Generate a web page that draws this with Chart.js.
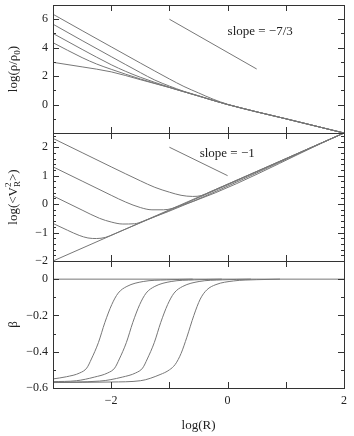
<!DOCTYPE html>
<html>
<head>
<meta charset="utf-8">
<script src="https://cdn.jsdelivr.net/npm/chart.js@4.4.1/dist/chart.umd.min.js"></script>
<style>
  html, body { margin: 0; padding: 0; background: #fff; }
  #caja { position: relative; width: 354px; height: 436px; }
  canvas { position: absolute; left: 0; }
</style>
</head>
<body>
<div id="caja">
  <canvas id="panelRho" width="354" height="136" style="top:0px"></canvas>
  <canvas id="panelVel" width="354" height="136" style="top:130px"></canvas>
  <canvas id="panelBeta" width="354" height="178" style="top:258px"></canvas>
</div>
<script>
// --- datos (log R en el eje x) ---

// panel superior: log(rho/rho0)
const rhoXA = [-3, -2.5, -2, -1.5, -1, -0.75, -0.5, -0.25, 0, 1, 2];
const rhoYA = [6.35, 5.2, 4.06, 2.92, 1.8, 1.27, 0.82, 0.38, 0.02, -1, -2];
const rhoXB = [-3, -2.5, -2, -1.5, -1.25, -1, -0.75, -0.5, 0, 1, 2];
const rhoYB = [5.65, 4.5, 3.37, 2.25, 1.72, 1.3, 0.93, 0.62, 0, -1, -2];
const rhoXC = [-3, -2.5, -2, -1.75, -1.5, -1, -0.5, 0, 1, 2];
const rhoYC = [5.0, 3.88, 2.8, 2.33, 1.92, 1.22, 0.6, 0, -1, -2];
const rhoXD = [-3, -2.5, -2.25, -2, -1.5, -1, -0.5, 0, 1, 2];
const rhoYD = [4.35, 3.3, 2.85, 2.48, 1.8, 1.2, 0.6, 0, -1, -2];
const rhoXE = [-3, -2.5, -2, -1.5, -1, -0.5, 0, 1, 2];
const rhoYE = [2.97, 2.65, 2.3, 1.75, 1.2, 0.6, 0, -1, -2];
const pendRhoX = [-1, 0.5];
const pendRhoY = [6, 2.5];

// panel central: log(<V_R^2>)
const velXBase = [-3, 2];
const velYBase = [-2, 2.5];
const velX1 = [-3, -2.5, -2, -1.5, -1.25, -1, -0.8, -0.6, -0.45, -0.3, 2];
const velY1 = [2.31, 1.81, 1.31, 0.82, 0.59, 0.42, 0.31, 0.27, 0.3, 0.43, 2.5];
const velX2 = [-3, -2.5, -2, -1.75, -1.5, -1.3, -1.1, -0.95, 2];
const velY2 = [1.31, 0.81, 0.31, 0.07, -0.12, -0.2, -0.2, -0.15, 2.5];
const velX3 = [-3, -2.5, -2.2, -2, -1.8, -1.6, -1.45, 2];
const velY3 = [0.29, -0.21, -0.5, -0.63, -0.7, -0.69, -0.6, 2.5];
const velX4 = [-3, -2.75, -2.55, -2.4, -2.25, -2.1, -1.95, 2];
const velY4 = [-0.68, -0.92, -1.1, -1.19, -1.21, -1.17, -1.05, 2.5];
const pendVelX = [-1, 0];
const pendVelY = [2, 1];

// panel inferior: beta
const betaXCero = [-3, 2];
const betaYCero = [0, 0];
const betaX1 = [-3, -2.77, -2.54, -2.42, -2.34, -2.22, -2.11, -1.99, -1.88, -1.73, -1.45, -1.05, -0.6];
const betaY1 = [-0.55, -0.538, -0.517, -0.49, -0.44, -0.35, -0.24, -0.14, -0.077, -0.04, -0.013, -0.004, 0];
const betaX2 = [-3, -2.6, -2.29, -2.06, -1.94, -1.86, -1.74, -1.63, -1.51, -1.4, -1.25, -0.97, -0.57, -0.1];
const betaY2 = [-0.565, -0.56, -0.54, -0.517, -0.49, -0.44, -0.35, -0.24, -0.14, -0.077, -0.04, -0.013, -0.004, 0];
const betaX3 = [-3, -2.2, -1.81, -1.58, -1.46, -1.38, -1.26, -1.15, -1.03, -0.92, -0.77, -0.49, -0.09, 0.4];
const betaY3 = [-0.568, -0.562, -0.54, -0.517, -0.49, -0.44, -0.35, -0.24, -0.14, -0.077, -0.04, -0.013, -0.004, 0];
const betaX4 = [-3, -2, -1.5, -1.16, -1, -0.9, -0.8, -0.7, -0.58, -0.47, -0.36, -0.2, 0.1, 0.5, 0.9];
const betaY4 = [-0.57, -0.567, -0.56, -0.526, -0.5, -0.47, -0.41, -0.32, -0.2, -0.11, -0.06, -0.03, -0.01, -0.003, 0];

// marcas y etiquetas de los ejes
const ejeXEtiquetas = [-2, 0, 2];
const ejeXMarcas = [-2, -1, 0, 1];
const rhoEtiquetas = [6, 4, 2, 0];
const rhoMenores = [5, 3, 1, -1];
const velEtiquetas = [2, 1, 0, -1, -2];
const velMayores = [2, 1, 0, -1];
const velMenores = [2.4, 2.2, 1.8, 1.6, 1.4, 1.2, 0.8, 0.6, 0.4, 0.2, -0.2, -0.4, -0.6, -0.8, -1.2, -1.4, -1.6, -1.8];
const betaEtiquetas = [0, -0.2, -0.4, -0.6];
const betaMayores = [0, -0.2, -0.4];
const betaMenores = [-0.1, -0.3, -0.5];

const fuente = 'Liberation Serif';
Chart.defaults.font.family = fuente;
Chart.defaults.font.size = 12;
Chart.defaults.color = '#222';

const menos = v => String(v).replace('-', '\u2212');

function conjunto(xs, ys) {
    return {
        data: xs.map((x, i) => ({ x: x, y: ys[i] })),
        borderColor: '#777',
        borderWidth: 1,
        pointRadius: 0,
        fill: false,
        cubicInterpolationMode: 'monotone'
    };
}

// marco del panel y marcas hacia dentro
const marcoEjes = {
    id: 'marcoEjes',
    afterDatasetsDraw(chart, args, opts) {
        const { ctx, chartArea: a } = chart;
        const x = chart.scales.x, y = chart.scales.y;
        ctx.save();
        ctx.strokeStyle = '#333';
        ctx.lineWidth = 1;
        ctx.beginPath();
        const raya = (px, py, dx, dy) => { ctx.moveTo(px, py); ctx.lineTo(px + dx, py + dy); };
        ejeXMarcas.forEach(v => {
            const px = Math.round(x.getPixelForValue(v)) + 0.5;
            raya(px, a.top, 0, 6);
            raya(px, a.bottom, 0, -6);
        });
        opts.mayores.forEach(v => {
            const py = Math.round(y.getPixelForValue(v)) + 0.5;
            raya(a.left, py, 6, 0);
            raya(a.right, py, -6, 0);
        });
        opts.menores.forEach(v => {
            const py = Math.round(y.getPixelForValue(v)) + 0.5;
            raya(a.left, py, 3, 0);
            raya(a.right, py, -3, 0);
        });
        ctx.stroke();
        ctx.strokeRect(Math.round(a.left) + 0.5, Math.round(a.top) + 0.5,
            Math.round(a.right - a.left), Math.round(a.bottom - a.top));
        ctx.restore();
    }
};

// textos: titulo vertical con sub/superindices y rotulos de pendiente
const rotulos = {
    id: 'rotulos',
    afterDraw(chart, args, opts) {
        const { ctx, chartArea: a } = chart;
        ctx.save();
        ctx.fillStyle = '#222';
        ctx.textBaseline = 'alphabetic';
        const medida = p => {
            ctx.font = (p.s === 'n' ? 13 : 9) + 'px "' + fuente + '"';
            return ctx.measureText(p.t).width;
        };
        let total = 0;
        opts.titulo.forEach(p => { if (!p.junto) total += medida(p); });
        ctx.translate(opts.tituloX, (a.top + a.bottom) / 2);
        ctx.rotate(-Math.PI / 2);
        let cx = -total / 2;
        opts.titulo.forEach(p => {
            const w = medida(p);
            let dy = 4;
            if (p.s === 'sub') dy = 7;
            if (p.s === 'sup') dy = -2;
            ctx.fillText(p.t, cx, dy);
            if (!p.junto) cx += w;
        });
        ctx.restore();

        ctx.save();
        ctx.fillStyle = '#222';
        ctx.font = '13px "' + fuente + '"';
        ctx.textBaseline = 'middle';
        (opts.textos || []).forEach(t => {
            ctx.fillText(t.texto, chart.scales.x.getPixelForValue(t.x), chart.scales.y.getPixelForValue(t.y));
        });
        ctx.restore();
    }
};

function sinRelleno(s) {
    s.paddingTop = 0;
    s.paddingBottom = 0;
    s.paddingLeft = 0;
    s.paddingRight = 0;
}

function opciones(cfg) {
    return {
        responsive: false,
        animation: false,
        events: [],
        layout: { padding: cfg.padding },
        plugins: {
            legend: { display: false },
            tooltip: { enabled: false },
            marcoEjes: { mayores: cfg.mayores, menores: cfg.menores },
            rotulos: { titulo: cfg.titulo, tituloX: 13, textos: cfg.textos }
        },
        scales: {
            x: {
                type: 'linear', min: -3, max: 2,
                grid: { display: false, drawTicks: false },
                border: { display: false },
                afterBuildTicks: s => { s.ticks = ejeXEtiquetas.map(v => ({ value: v })); },
                ticks: { display: cfg.conX, padding: 6, maxRotation: 0, autoSkip: false, callback: v => menos(v) },
                title: { display: cfg.conX, text: 'log(R)', font: { size: 13 }, padding: { top: 0, bottom: 3 } },
                afterFit: s => { s.height = cfg.conX ? 48 : 0; sinRelleno(s); }
            },
            y: {
                type: 'linear', min: cfg.yMin, max: cfg.yMax,
                grid: { display: false, drawTicks: false },
                border: { display: false },
                afterBuildTicks: s => { s.ticks = cfg.etiquetas.map(v => ({ value: v })); },
                ticks: { padding: 5, autoSkip: false, callback: v => menos(v) },
                afterFit: s => { s.width = 53; sinRelleno(s); }
            }
        }
    };
}

new Chart(document.getElementById('panelRho'), {
    type: 'line',
    data: {
        datasets: [
            conjunto(rhoXA, rhoYA), conjunto(rhoXB, rhoYB), conjunto(rhoXC, rhoYC),
            conjunto(rhoXD, rhoYD), conjunto(rhoXE, rhoYE), conjunto(pendRhoX, pendRhoY)
        ]
    },
    options: opciones({
        padding: { top: 5, right: 10, bottom: 3, left: 0 },
        yMin: -2, yMax: 7, etiquetas: rhoEtiquetas,
        mayores: rhoEtiquetas, menores: rhoMenores, conX: false,
        titulo: [{ t: 'log(\u03c1/\u03c1', s: 'n' }, { t: '0', s: 'sub' }, { t: ')', s: 'n' }],
        textos: [{ x: 0, y: 5.1, texto: 'slope = \u22127/3' }]
    }),
    plugins: [marcoEjes, rotulos]
});

new Chart(document.getElementById('panelVel'), {
    type: 'line',
    data: {
        datasets: [
            conjunto(velXBase, velYBase), conjunto(velX1, velY1), conjunto(velX2, velY2),
            conjunto(velX3, velY3), conjunto(velX4, velY4), conjunto(pendVelX, pendVelY)
        ]
    },
    options: opciones({
        padding: { top: 3, right: 10, bottom: 5, left: 0 },
        yMin: -2, yMax: 2.5, etiquetas: velEtiquetas,
        mayores: velMayores, menores: velMenores, conX: false,
        titulo: [{ t: 'log(<V', s: 'n' }, { t: '2', s: 'sup', junto: true }, { t: 'R', s: 'sub' }, { t: '>)', s: 'n' }],
        textos: [{ x: -0.48, y: 1.79, texto: 'slope = \u22121' }]
    }),
    plugins: [marcoEjes, rotulos]
});

new Chart(document.getElementById('panelBeta'), {
    type: 'line',
    data: {
        datasets: [
            conjunto(betaXCero, betaYCero), conjunto(betaX1, betaY1), conjunto(betaX2, betaY2),
            conjunto(betaX3, betaY3), conjunto(betaX4, betaY4)
        ]
    },
    options: opciones({
        padding: { top: 3, right: 10, bottom: 0, left: 0 },
        yMin: -0.6, yMax: 0.1, etiquetas: betaEtiquetas,
        mayores: betaMayores, menores: betaMenores, conX: true,
        titulo: [{ t: '\u03b2', s: 'n' }],
        textos: []
    }),
    plugins: [marcoEjes, rotulos]
});
</script>
</body>
</html>
